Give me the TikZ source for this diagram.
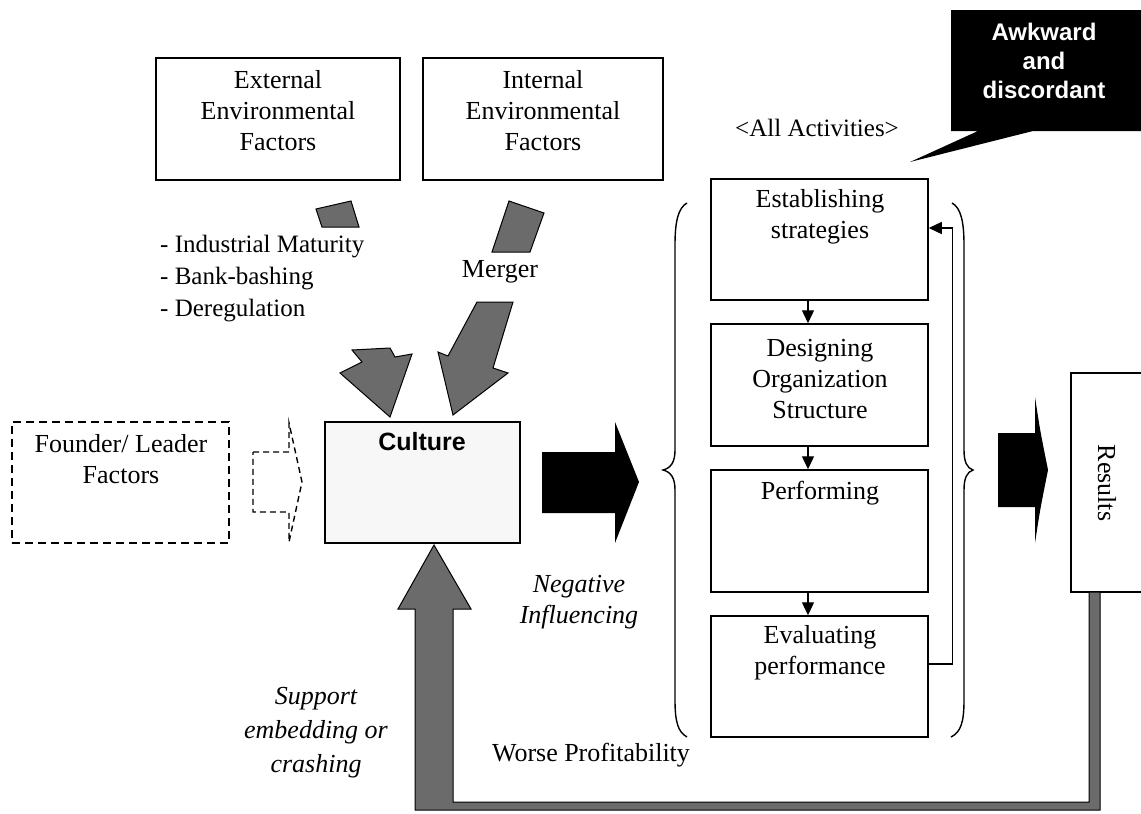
\documentclass[tikz,border=0pt]{standalone}
\usepackage{fontspec}
\setmainfont{Liberation Serif}
\newfontfamily\arialf{Liberation Sans}
\usetikzlibrary{arrows.meta,calc}
\begin{document}
\begin{tikzpicture}[x=1pt,y=-1pt,
  box/.style={draw, line width=1.5pt, inner sep=0pt, fill=white},
  txt/.style={font=\fontsize{26}{31}\selectfont, align=center, inner sep=0pt},
  grayarrow/.style={fill=black!58, draw=black, line width=1pt, line join=miter},
  flow/.style={line width=1.3pt, -{Triangle[length=13pt,width=12pt]}},
  brace/.style={line width=1.4pt}]
\useasboundingbox (0,0) rectangle (1141,814);
\fill[white] (0,0) rectangle (1141,814);

% top boxes
\node[box, minimum width=244pt, minimum height=122pt] (ext) at (278,119) {};
\node[txt] (exttxt) at (278,111) {External\\Environmental\\Factors};
\node[box, minimum width=240pt, minimum height=122pt] (int) at (543,119) {};
\node[txt] (inttxt) at (543,111) {Internal\\Environmental\\Factors};

% environmental arrows
\draw[grayarrow] (316,209) -- (351,201) -- (359,227) -- (322,227) -- cycle;
\draw[grayarrow] (509,201) -- (544,213) -- (530,252) -- (492,252) -- cycle;
\draw[grayarrow] (352,350) -- (390,348) -- (395,357) -- (412,354) -- (390,417) -- (340,373) -- (362,362) -- cycle;
\draw[grayarrow] (477,302) -- (513,302) -- (493,368) -- (508,373) -- (453,415) -- (438,352) -- (448,356) -- cycle;

\node[txt, font=\fontsize{25}{32}\selectfont, anchor=west, align=left] (list) at (160,279) {- Industrial Maturity\\- Bank-bashing\\- Deregulation};
\node[txt] (merger) at (500,272) {Merger};

% founder
\node[box, dash pattern=on 8pt off 5pt, minimum width=217pt, minimum height=121pt] (founder) at (120.5,482.5) {};
\node[txt] (foundertxt) at (121,459) {Founder/ Leader\\Factors};
\draw[line width=1.4pt, dash pattern=on 6pt off 4pt] (253,452) -- (289,452) -- (289,423) -- (302,482) -- (289,542) -- (289,512) -- (253,512) -- cycle;

% culture
\node[box, fill=black!3, minimum width=195pt, minimum height=121pt] (culture) at (422.5,482.5) {};
\node[txt, font=\arialf\bfseries\fontsize{25}{30}\selectfont] (culttxt) at (422,442) {Culture};

% black arrows
\fill (542,452) -- (615,452) -- (615,422) -- (639,482) -- (615,543) -- (615,513) -- (542,513) -- cycle;
\fill (998,433) -- (1035,433) -- (1035,397) .. controls (1040,430) .. (1048,470) .. controls (1040,510) .. (1035,543) -- (1035,507) -- (998,507) -- cycle;

% activities
\node[txt, font=\fontsize{25}{30}\selectfont] (allact) at (817,128) {\textless All Activities\textgreater};
\node[box, minimum width=217pt, minimum height=121pt] (est) at (819.5,239.5) {};
\node[txt] (esttxt) at (820,217) {Establishing\\strategies};
\node[box, minimum width=217pt, minimum height=122pt] (des) at (819.5,385) {};
\node[txt] (destxt) at (820,379) {Designing\\Organization\\Structure};
\node[box, minimum width=217pt, minimum height=122pt] (perf) at (819.5,531) {};
\node[txt] (perftxt) at (820,493) {Performing};
\node[box, minimum width=217pt, minimum height=121pt] (eval) at (819.5,676.5) {};
\node[txt] (evaltxt) at (820,653) {Evaluating\\performance};

\draw[flow] ([xshift=-11.5pt]est.south) -- ([xshift=-11.5pt]des.north);
\draw[flow] ([xshift=-11.5pt]des.south) -- ([xshift=-11.5pt]perf.north);
\draw[flow] ([xshift=-11.5pt]perf.south) -- ([xshift=-11.5pt]eval.north);
\draw[flow] ([yshift=12.5pt]eval.east) -- ++(24,0) |- ([yshift=11.5pt]est.east);

% braces
\draw[brace] (687,203) .. controls (678,208) and (675,222) .. (675,245) -- (675,450) .. controls (675,462) and (671,468) .. (663,470) .. controls (671,472) and (675,478) .. (675,490) -- (675,700) .. controls (675,722) and (678,732) .. (687,737);
\draw[brace] (952,203) .. controls (961,208) and (964,222) .. (964,245) -- (964,450) .. controls (964,462) and (967,468) .. (973,470) .. controls (967,472) and (964,478) .. (964,490) -- (964,700) .. controls (964,722) and (961,732) .. (951,737);

% callout
\fill (951,10) -- (1145,10) -- (1145,131) -- (1033,131) -- (910,162) -- (978,131) -- (951,131) -- cycle;
\node[txt, text=white, font=\arialf\bfseries\fontsize{24}{29}\selectfont] (callout) at (1044,61) {Awkward\\and\\discordant};

% results
\node[box, minimum width=76pt, minimum height=219pt] (results) at (1109,482.5) {};
\node[txt, rotate=-90] (restxt) at (1107,483) {Results};

% feedback
\draw[grayarrow] (415,810) -- (415,609) -- (398,609) -- (434,545) -- (471,609) -- (453,609) -- (453,802) -- (1089,802) -- (1089,592) -- (1100,592) -- (1100,810) -- cycle;

\node[txt, font=\itshape\fontsize{26}{31}\selectfont] (neg) at (579,602) {Negative\\Influencing};
\node[txt, font=\itshape\fontsize{26}{34}\selectfont] (support) at (316,733) {Support\\embedding or\\crashing};
\node[txt] (worse) at (591,755) {Worse Profitability};
\end{tikzpicture}
\end{document}
